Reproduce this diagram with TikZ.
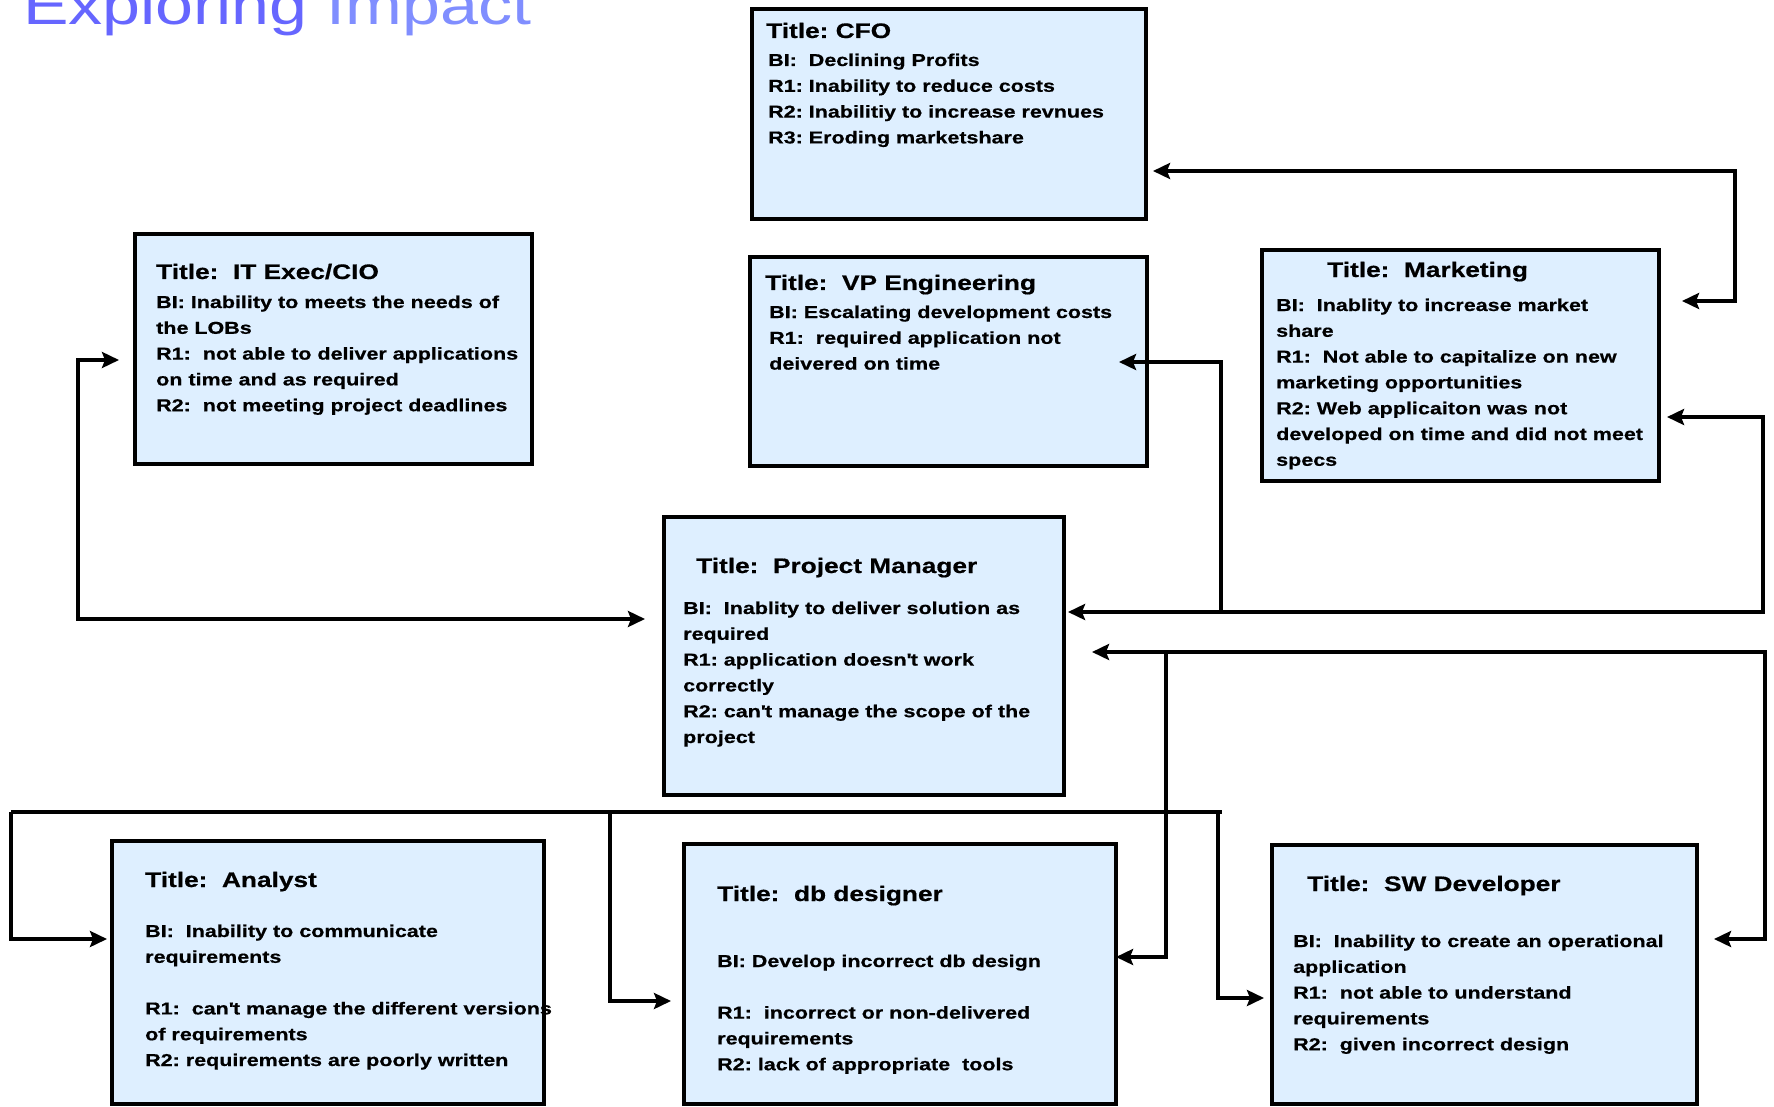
\documentclass[tikz,border=0pt]{standalone}
\usepackage{fontspec}
\usetikzlibrary{arrows.meta}
\newfontfamily\arialx[FakeStretch=1.24]{Liberation Sans}
\newfontfamily\arialb[FakeStretch=1.25,FakeBold=0.6]{Liberation Sans}
\definecolor{boxfill}{RGB}{222,239,255}
\definecolor{ttlA}{RGB}{102,102,255}
\definecolor{ttlB}{RGB}{128,142,255}
\newcommand\titlefont{\arialb\bfseries\fontsize{21}{25}\selectfont\frenchspacing}
\newcommand\bodyfont{\arialb\bfseries\fontsize{17.2}{25.8}\selectfont\frenchspacing}
\newcommand\bodytxt[1]{\begin{tabular}[t]{@{}l@{}}#1\end{tabular}}
\newcommand\apos{\textquotesingle}
\tikzset{
  box/.style={draw=black, line width=4.5pt, fill=boxfill, rectangle, inner sep=0pt, outer sep=0pt, anchor=north west},
  ttl/.style={anchor=base west, inner sep=0pt, font=\titlefont},
  bdy/.style={anchor=base west, inner sep=0pt, font=\bodyfont},
  conn/.style={line width=4.6pt, draw=black},
  arr/.style={conn, -{Stealth[length=17pt,width=16pt,inset=3pt]}},
  darr/.style={conn, {Stealth[length=17pt,width=16pt,inset=3pt]}-{Stealth[length=17pt,width=16pt,inset=3pt]}},
  sarr/.style={conn, {Stealth[length=17pt,width=16pt,inset=3pt]}-},
}
\begin{document}
\begin{tikzpicture}[x=1pt,y=-1pt]
\useasboundingbox (0,0) rectangle (1774,1107);
\fill[white] (0,0) rectangle (1774,1107);

% heading
\node[anchor=base west, inner sep=0pt, font=\arialx\fontsize{55}{60}\selectfont] (heading) at (23,25)
  {\textcolor{ttlA}{Exploring} \textcolor{ttlB}{Impact}};

% boxes
\node[box, minimum width=394pt, minimum height=210pt] (cfo) at (752,9) {};
\node[box, minimum width=397pt, minimum height=230pt] (itx) at (135,234) {};
\node[box, minimum width=397pt, minimum height=209pt] (vp) at (750,257) {};
\node[box, minimum width=397pt, minimum height=231pt] (mkt) at (1262,250) {};
\node[box, minimum width=400pt, minimum height=278pt] (pm) at (664,517) {};
\node[box, minimum width=432pt, minimum height=263pt] (an) at (112,841) {};
\node[box, minimum width=432pt, minimum height=260pt] (db) at (684,844) {};
\node[box, minimum width=425pt, minimum height=259pt] (sw) at (1272,845) {};

% texts
\node[ttl] (cfoT) at (766,38) {Title: CFO};
\node[bdy] (cfoB) at (768,66) {\bodytxt{BI:\ \ Declining Profits\\R1: Inability to reduce costs\\R2: Inabilitiy to increase revnues\\R3: Eroding marketshare}};

\node[ttl] (itxT) at (156,279) {Title:\ \ IT Exec/CIO};
\node[bdy] (itxB) at (156,308) {\bodytxt{BI: Inability to meets the needs of\\the LOBs\\R1:\ \ not able to deliver applications\\on time and as required\\R2:\ \ not meeting project deadlines}};

\node[ttl] (vpT) at (765,290) {Title:\ \ VP Engineering};
\node[bdy] (vpB) at (769,318) {\bodytxt{BI: Escalating development costs\\R1:\ \ required application not\\deivered on time}};

\node[ttl] (mktT) at (1327,277) {Title:\ \ Marketing};
\node[bdy] (mktB) at (1276,311) {\bodytxt{BI:\ \ Inablity to increase market\\share\\R1:\ \ Not able to capitalize on new\\marketing opportunities\\R2: Web applicaiton was not\\developed on time and did not meet\\specs}};

\node[ttl] (pmT) at (696,573) {Title:\ \ Project Manager};
\node[bdy] (pmB) at (683,614) {\bodytxt{BI:\ \ Inablity to deliver solution as\\required\\R1: application doesn\apos t work\\correctly\\R2: can\apos t manage the scope of the\\project}};

\node[ttl] (anT) at (145,887) {Title:\ \ Analyst};
\node[bdy] (anB) at (145,937) {\bodytxt{BI:\ \ Inability to communicate\\requirements\\ \\R1:\ \ can\apos t manage the different versions\\of requirements\\R2: requirements are poorly written}};

\node[ttl] (dbT) at (717,901) {Title:\ \ db designer};
\node[bdy] (dbB) at (717,967) {\bodytxt{BI: Develop incorrect db design\\ \\R1:\ \ incorrect or non-delivered\\requirements\\R2: lack of appropriate\ \ tools}};

\node[ttl] (swT) at (1307,891) {Title:\ \ SW Developer};
\node[bdy] (swB) at (1293,947) {\bodytxt{BI:\ \ Inability to create an operational\\application\\R1:\ \ not able to understand\\requirements\\R2:\ \ given incorrect design}};

% connectors
\coordinate (jvp) at (1221,612);
\coordinate (jdb) at (1166,652);
\coordinate (busL) at (11,812);
\coordinate (busR) at (1222,812);

\draw[darr, shorten <=7pt, shorten >=23pt] (cfo.east |- 0,171) -- (1735,171) -- (1735,301) -- (mkt.east |- 0,301);
\draw[darr, shorten <=8pt, shorten >=4pt] (mkt.east |- 0,417) -- (1763,417) -- (1763,612) -- (pm.east |- 0,612);
\draw[sarr, shorten <=-28pt] (vp.east |- 0,362) -- (1221,362) -- (jvp);
\draw[darr, shorten <=16pt, shorten >=19pt] (itx.west |- 0,360) -- (78,360) -- (78,619) -- (pm.west |- 0,619);
\draw[darr, shorten <=28pt, shorten >=17pt] (pm.east |- 0,652) -- (1765,652) -- (1765,939) -- (sw.east |- 0,939);
\draw[arr] (jdb) -- (1166,957) -- (db.east |- 0,957);
\draw[conn] (busL) -- (busR);
\draw[arr, shorten >=5pt] (busL) -- (11,939) -- (an.west |- 0,939);
\draw[arr, shorten >=13pt] (610,812) -- (610,1001) -- (db.west |- 0,1001);
\draw[arr, shorten >=8pt] (1218,812) -- (1218,998) -- (sw.west |- 0,998);
\end{tikzpicture}
\end{document}
